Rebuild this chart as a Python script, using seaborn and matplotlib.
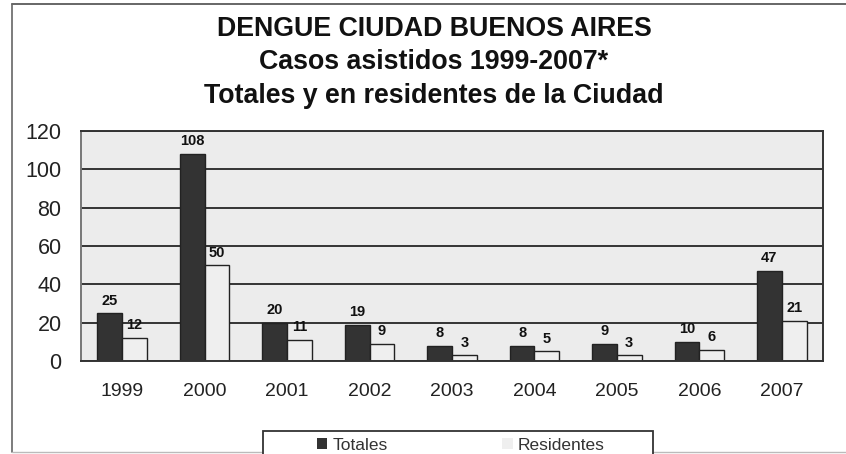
import numpy as np
import pandas as pd
import matplotlib
matplotlib.use("Agg")
import matplotlib.pyplot as plt
import seaborn as sns
from matplotlib.patches import Rectangle, Patch
from matplotlib.lines import Line2D

# D A T A
years = ["1999", "2000", "2001", "2002", "2003", "2004", "2005", "2006", "2007"]
totales = [25, 108, 20, 19, 8, 8, 9, 10, 47]
residentes = [12, 50, 11, 9, 3, 5, 3, 6, 21]
series = ["Totales", "Residentes"]
title_lines = ["DENGUE CIUDAD BUENOS AIRES",
               "Casos asistidos 1999-2007*",
               "Totales y en residentes de la Ciudad"]

df = pd.DataFrame({
    "year": years * 2,
    "serie": [series[0]] * len(years) + [series[1]] * len(years),
    "casos": totales + residentes,
})

sns.set_theme(style="white")
plt.rcParams["font.family"] = ["Liberation Sans", "DejaVu Sans"]

W, H = 846, 454
fig = plt.figure(figsize=(W / 100, H / 100), dpi=100)
ax = fig.add_axes([81 / W, 1 - 361 / H, (823 - 81) / W, (361 - 131) / H])

colors = {"Totales": "#333333", "Residentes": "#efefef"}
sns.barplot(data=df, x="year", y="casos", hue="serie", palette=colors,
            width=0.6, ax=ax, legend=False, edgecolor="#222222", linewidth=1.0,
            saturation=1)

ax.set_facecolor("#ececec")
ax.set_ylim(0, 120)
ax.set_yticks(np.arange(0, 121, 20))
ax.set_xlim(-0.5, len(years) - 0.5)
ax.yaxis.grid(True, color="#333333", lw=1.4)
ax.set_axisbelow(True)
ax.set_xlabel("")
ax.set_ylabel("")
for s in ax.spines.values():
    s.set_color("#333333")
    s.set_linewidth(1.4)
ax.spines["left"].set_color("#777777")
ax.tick_params(axis="y", labelsize=15.5, pad=14, length=0, labelcolor="#222222")
ax.tick_params(axis="x", labelsize=14, pad=16, length=0, labelcolor="#222222")

for cont in ax.containers:
    for bar in cont:
        h = bar.get_height()
        ax.annotate(f"{int(h)}", (bar.get_x() + bar.get_width() / 2, h),
                    xytext=(0, 4), textcoords="offset points", ha="center",
                    va="bottom", fontsize=10.5, fontweight="bold", color="#111111")

# titles
for t, y in zip(title_lines, [29, 62, 96]):
    fig.text(434 / W, 1 - y / H, t, ha="center", va="center",
             fontsize=19.3, fontweight="bold", color="#111111")

# outer frame (right side runs off the picture)
fig.add_artist(Line2D([12 / W, 1], [1 - 4 / H, 1 - 4 / H], transform=fig.transFigure,
                      color="#666666", lw=1.4))
fig.add_artist(Line2D([12 / W, 12 / W], [1 - 4 / H, 1 - 452 / H], transform=fig.transFigure,
                      color="#666666", lw=1.2))
fig.add_artist(Line2D([12 / W, 1], [1 - 452 / H, 1 - 452 / H], transform=fig.transFigure,
                      color="#bbbbbb", lw=1.0))

# legend box, cut at the bottom edge
fig.patches.append(Rectangle((263 / W, -0.05), (653 - 263) / W, 0.05 + 1 - 431 / H,
                             transform=fig.transFigure, fill=True, facecolor="white",
                             edgecolor="#333333", lw=1.3, zorder=3))
handles = [Patch(facecolor=colors[s], edgecolor="none") for s in series]
leg = fig.legend(handles, series, loc="center left", ncol=2,
                 bbox_to_anchor=(317 / W, 1 - 445 / H), fontsize=12.5,
                 frameon=False, handlelength=0.6, handleheight=0.6,
                 handletextpad=0.3, columnspacing=6.6, borderpad=0,
                 borderaxespad=0)
leg.set_zorder(4)
for txt in leg.get_texts():
    txt.set_color("#333333")

fig.savefig("out.png", dpi=100)
